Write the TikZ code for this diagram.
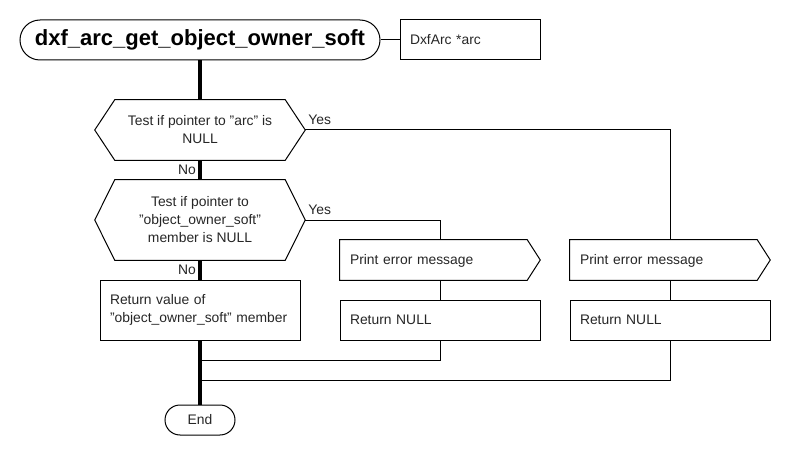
\documentclass[tikz,border=0pt]{standalone}
\usepackage{fontspec}
\setmainfont{Liberation Sans}
\usetikzlibrary{shapes.misc}
\begin{document}
\begin{tikzpicture}[x=0.75pt,y=-0.75pt,
  every node/.style={font=\fontsize{10.4}{13.5}\selectfont, text=black!85},
  thin line/.style={draw=black, line width=0.75pt},
  main/.style={draw=black, line width=2.4pt},
  term/.style={rounded rectangle, draw=black, line width=0.75pt, inner sep=0pt},
  pbox/.style={rectangle, draw=black, line width=0.75pt, minimum width=150pt, text width=135pt, inner xsep=7.5pt, align=left, text depth=0.5pt},
  hexnode/.style={rectangle, minimum width=157.5pt, align=center, inner sep=0pt},
  signode/.style={rectangle, minimum width=150pt, minimum height=30pt, text width=135pt, inner xsep=7.5pt, align=left, text depth=0.5pt},
  lbl/.style={font=\fontsize{10.4}{12}\selectfont, inner sep=2pt}
]
\useasboundingbox (0,0) rectangle (790,460);

% title and parameter
\node[term, minimum width=270pt, minimum height=30pt, font=\fontsize{16.5}{19}\bfseries\selectfont, text=black] (title) at (200,40) {dxf\_arc\_get\_object\_owner\_soft};
\node[pbox, minimum width=105pt, text width=90pt, minimum height=30pt] (param) at (470,40) {DxfArc *arc};
\draw[thin line] (title.east) -- (param.west);

% decisions
\node[hexnode, minimum height=45pt] (d1) at (200,130) {Test if pointer to "arc" is\\NULL};
\draw[thin line] (d1.west) -- ([xshift=15pt]d1.north west) -- ([xshift=-15pt]d1.north east) -- (d1.east) -- ([xshift=-15pt]d1.south east) -- ([xshift=15pt]d1.south west) -- cycle;

\node[hexnode, minimum height=60pt] (d2) at (200,220) {Test if pointer to\\"object\_owner\_soft"\\member is NULL};
\draw[thin line] (d2.west) -- ([xshift=15pt]d2.north west) -- ([xshift=-15pt]d2.north east) -- (d2.east) -- ([xshift=-15pt]d2.south east) -- ([xshift=15pt]d2.south west) -- cycle;

% return value box
\node[pbox, text depth=, minimum height=45pt] (rv) at (200,310) {Return value of\\"object\_owner\_soft" member};

% print error signals
\node[signode] (p1) at (440,260) {Print error message};
\draw[thin line] (p1.north west) -- ([xshift=-9.75pt]p1.north east) -- (p1.east) -- ([xshift=-9.75pt]p1.south east) -- (p1.south west) -- cycle;
\node[signode] (p2) at (670,260) {Print error message};
\draw[thin line] (p2.north west) -- ([xshift=-9.75pt]p2.north east) -- (p2.east) -- ([xshift=-9.75pt]p2.south east) -- (p2.south west) -- cycle;

% return null boxes
\node[pbox, minimum height=30pt] (r1) at (440,320) {Return NULL};
\node[pbox, minimum height=30pt] (r2) at (670,320) {Return NULL};

% end
\node[term, minimum width=52.5pt, minimum height=22.5pt] (end) at (200,420) {End};

% join points
\coordinate (j1) at (200,360);
\coordinate (j2) at (200,380);

% main flow
\draw[main] (title.south) -- (d1.north);
\draw[main] (d1.south) -- node[lbl, left] {No} (d2.north);
\draw[main] (d2.south) -- node[lbl, left] {No} (rv.north);
\draw[main] (rv.south) -- (end.north);

% yes branches
\draw[thin line] (d1.east) node[lbl, anchor=south west, yshift=1.5pt] {Yes} -| (p2.north);
\draw[thin line] (d2.east) node[lbl, anchor=south west, yshift=1.5pt] {Yes} -| (p1.north);
\draw[thin line] (p1.south) -- (r1.north);
\draw[thin line] (p2.south) -- (r2.north);
\draw[thin line] (r1.south) |- (j1);
\draw[thin line] (r2.south) |- (j2);
\end{tikzpicture}
\end{document}
